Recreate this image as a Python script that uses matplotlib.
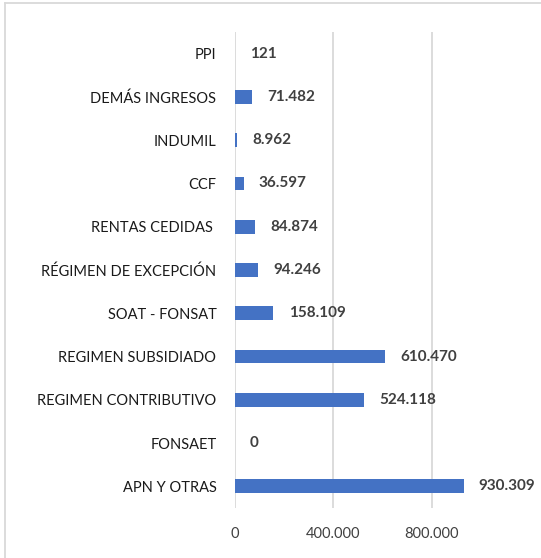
import matplotlib
matplotlib.use("Agg")
import matplotlib.pyplot as plt
from matplotlib.lines import Line2D

categories = ["APN Y OTRAS", "FONSAET", "REGIMEN CONTRIBUTIVO", "REGIMEN SUBSIDIADO",
              "SOAT - FONSAT", "RÉGIMEN DE EXCEPCIÓN", "RENTAS CEDIDAS ", "CCF",
              "INDUMIL", "DEMÁS INGRESOS", "PPI"]
values = [930309, 0, 524118, 610470, 158109, 94246, 84874, 36597, 8962, 71482, 121]
value_labels = ["930.309", "0", "524.118", "610.470", "158.109", "94.246", "84.874",
                "36.597", "8.962", "71.482", "121"]
xticks = [0, 400000, 800000]
xtick_labels = ["0", "400.000", "800.000"]

plt.rcParams['font.family'] = ['Lato', 'DejaVu Sans']

W, H = 541, 558
fig = plt.figure(figsize=(W/100, H/100), dpi=100)
left, right, top, bottom = 234.5, 520, 32, 508
ax = fig.add_axes([left/W, 1 - bottom/H, (right-left)/W, (bottom-top)/H])

y = list(range(len(categories)))
ax.barh(y, values, height=0.32, color="#4472C4", zorder=3)
ax.set_ylim(-0.5, len(categories) - 0.5)
px_per_unit = 98.5 / 400000
ax.set_xlim(0, (right - left) / px_per_unit)
ax.set_xticks(xticks)
ax.set_xticklabels(xtick_labels, color="#404040", fontsize=10.5)
ax.set_yticks(y)
ax.set_yticklabels(categories, color="#1a1a1a", fontsize=10.5)
ax.tick_params(axis='both', length=0)
ax.tick_params(axis='x', pad=14)
ax.tick_params(axis='y', pad=13)
for s in ax.spines.values():
    s.set_visible(False)
ax.grid(axis='x', color="#d9d9d9", linewidth=1.3, zorder=0)
ax.set_axisbelow(True)

for yi, v, lab in zip(y, values, value_labels):
    ax.annotate(lab, xy=(v, yi), xytext=(11, 0), textcoords='offset points',
                va='center', ha='left', fontsize=11, fontweight='bold',
                color="#404040", annotation_clip=False)

fig.add_artist(Line2D([5/W, 5/W], [0, 1 - 3/H], color="#d9d9d9", linewidth=1.3))
fig.add_artist(Line2D([5/W, 1], [1 - 3/H, 1 - 3/H], color="#d9d9d9", linewidth=1.3))

fig.savefig("out.png", dpi=100)
